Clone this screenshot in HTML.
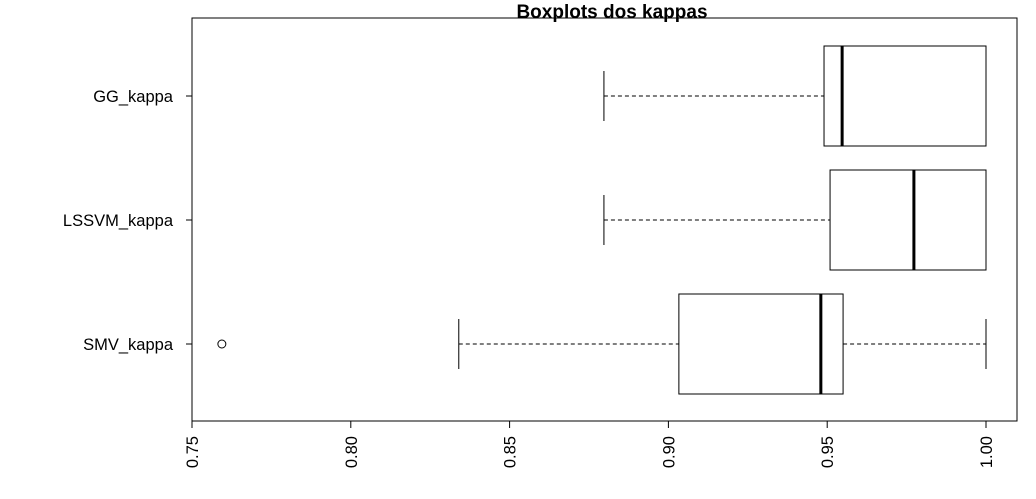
<!DOCTYPE html>
<html><head><meta charset="utf-8"><style>body{margin:0;background:#fff}svg{display:block;font-family:"Liberation Sans",sans-serif}</style></head>
<body>
<svg id="chart" width="1036" height="499">
<rect x="192" y="18" width="825" height="403" fill="none" stroke="#000"/>
<text x="612" y="18" text-anchor="middle" font-size="19" font-weight="bold">Boxplots dos kappas</text>
<g id="marks"></g>
</svg>
<script>
const categories = ["GG_kappa","LSSVM_kappa","SMV_kappa"];
const whiskerLow = [0.8797,0.8797,0.834];
const q1 = [0.949,0.9509,0.9033];
const medians = [0.9547,0.9773,0.948];
const q3 = [1.0,1.0,0.955];
const whiskerHigh = [1.0,1.0,1.0];
const outliers = [[],[],[0.7594]];
const xTicks = ["0.75","0.80","0.85","0.90","0.95","1.00"];

const NS="http://www.w3.org/2000/svg";
const g=document.getElementById('marks');
function x(v){return 192+(v-0.75)*3176;}
function y(i){return 96+i*124;}
function el(t,a,name){const e=document.createElementNS(NS,t);for(const k in a)e.setAttribute(k,a[k]);


g.appendChild(e);return e;}
categories.forEach((c,i)=>{
  const cy=y(i);
  el('line',{x1:x(whiskerLow[i]),x2:x(q1[i]),y1:cy,y2:cy,stroke:'#000','stroke-dasharray':'4,3'},'whisker-low-'+c);
  el('line',{x1:x(q3[i]),x2:x(whiskerHigh[i]),y1:cy,y2:cy,stroke:'#000','stroke-dasharray':'4,3'},'whisker-high-'+c);
  el('line',{x1:x(whiskerLow[i]),x2:x(whiskerLow[i]),y1:cy-25,y2:cy+25,stroke:'#000'},'whisker-cap-low-'+c);
  el('line',{x1:x(whiskerHigh[i]),x2:x(whiskerHigh[i]),y1:cy-25,y2:cy+25,stroke:'#000'},'whisker-cap-high-'+c);
  el('rect',{x:x(q1[i]),y:cy-50,width:x(q3[i])-x(q1[i]),height:100,fill:'none',stroke:'#000'},'box-'+c);
  el('line',{x1:x(medians[i]),x2:x(medians[i]),y1:cy-50,y2:cy+50,stroke:'#000','stroke-width':3},'median-'+c);
  outliers[i].forEach(o=>el('circle',{cx:x(o),cy:cy,r:4,fill:'none',stroke:'#000'},'outlier-'+c));
  el('line',{x1:186,x2:192,y1:cy,y2:cy,stroke:'#000'},'y-tick-'+c);
  const t=el('text',{x:173,y:cy+6,'text-anchor':'end','font-size':16.5},'y-label-'+c);t.textContent=c;
});
el('line',{x1:192,x2:192,y1:y(0),y2:y(categories.length-1),stroke:'#000'},'y-axis');
el('line',{x1:x(0.75),x2:x(1.0),y1:421,y2:421,stroke:'#000'},'x-axis');
xTicks.forEach(s=>{
  const v=parseFloat(s),px=x(v);
  el('line',{x1:px,x2:px,y1:421,y2:428,stroke:'#000'},'x-tick-'+s);
  const t=el('text',{x:px+6,y:436,'text-anchor':'end','font-size':16.5,transform:`rotate(-90 ${px+6} 436)`},'x-label-'+s);t.textContent=s;
});
</script>
</body></html>
